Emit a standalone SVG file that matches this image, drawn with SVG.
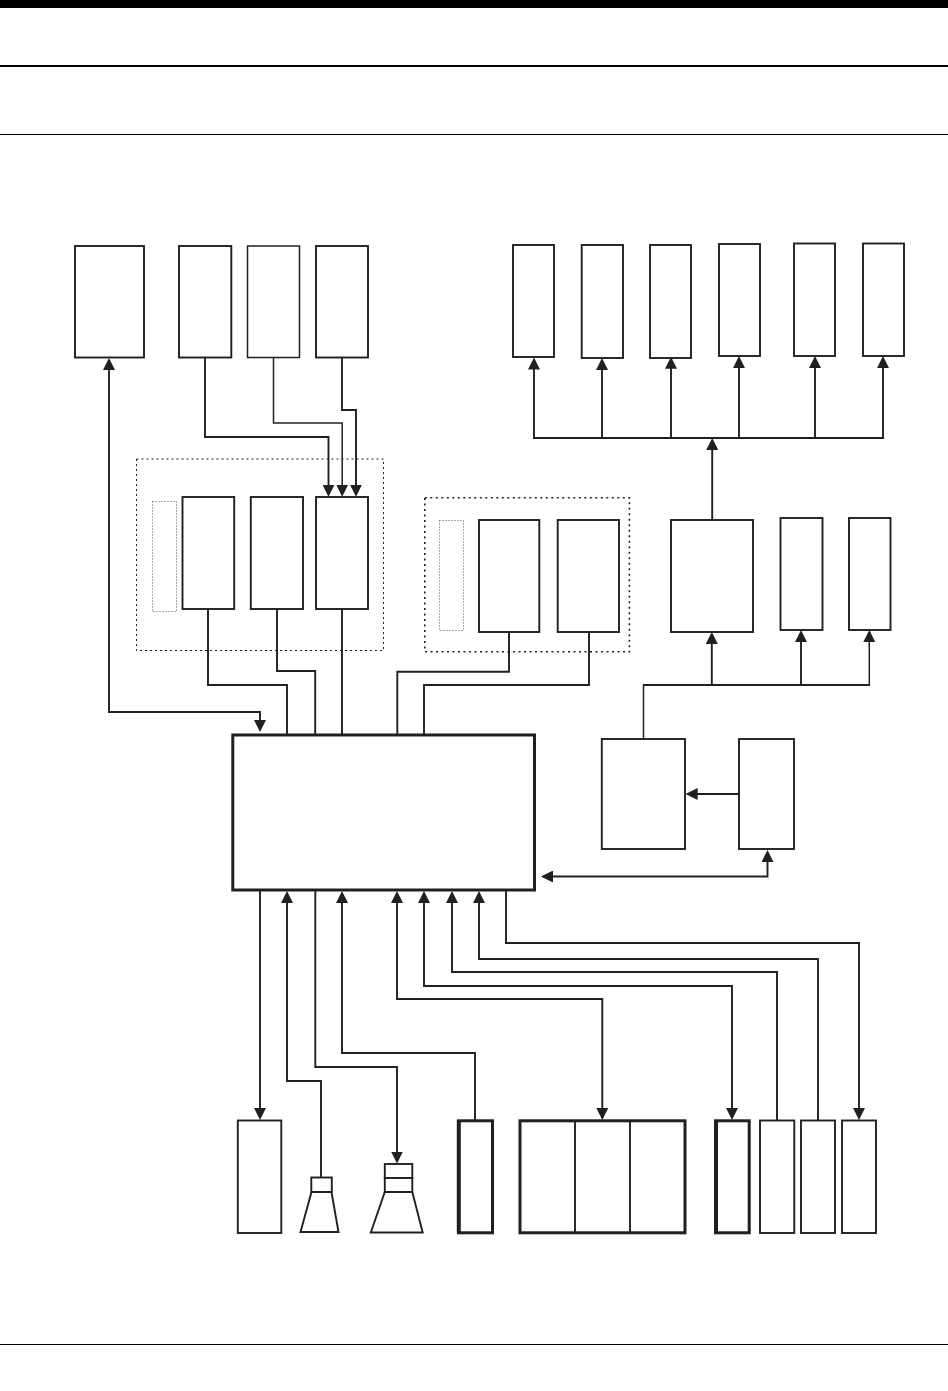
<svg xmlns="http://www.w3.org/2000/svg" width="948" height="1391" viewBox="0 0 948 1391">
<style>
.n{fill:#fff;stroke:#231f20;stroke-width:1.9}
.t{fill:#fff;stroke:#231f20;stroke-width:1.5}
.h{fill:#fff;stroke:#231f20;stroke-width:3}
.k{fill:none;stroke:#231f20;stroke-width:4}
.d{fill:none;stroke:#231f20;stroke-width:1;stroke-dasharray:2 3}
.d2{fill:none;stroke:#231f20;stroke-width:1.6;stroke-dasharray:2 3.5}
.g{fill:none;stroke:#555;stroke-width:1;stroke-dasharray:1 2}
.c{fill:none;stroke:#231f20;stroke-width:1.9;stroke-linejoin:miter}
.c2{fill:none;stroke:#231f20;stroke-width:1.5}
.a{marker-end:url(#ah)}
.b{marker-start:url(#ah);marker-end:url(#ah)}
.r{fill:#000}
.l{stroke:#000;fill:none}
</style>
<defs>
<marker id="ah" markerUnits="userSpaceOnUse" markerWidth="12" markerHeight="12" refX="10" refY="6" orient="auto-start-reverse"><polygon points="0,0 12,6 0,12" fill="#231f20"/></marker>
</defs>
<rect width="948" height="1391" fill="#fff"/>
<g id="page-rules">
<rect class="r" x="0" y="0" width="948" height="8"/>
<line class="l" x1="0" y1="66" x2="948" y2="66" stroke-width="2"/>
<line class="l" x1="0" y1="134.500" x2="948" y2="134.500" stroke-width="1"/>
<line class="l" x1="0" y1="1344.500" x2="948" y2="1344.500" stroke-width="1"/>
</g>
<g id="frame-left"><rect class="d" x="136.500" y="459" width="247" height="191.500"/><rect class="g" x="152.500" y="501.500" width="24" height="110"/></g>
<g id="frame-right"><rect class="d2" x="424.800" y="497.800" width="204.600" height="154"/><rect class="g" x="439.500" y="520.500" width="24" height="110"/></g>
<g id="top-1"><rect class="n" x="75" y="246" width="69" height="111.500"/></g>
<g id="top-2"><rect class="n" x="179" y="246" width="52.300" height="111.500"/></g>
<g id="top-3"><rect class="t" x="247.500" y="246" width="52" height="111.500"/></g>
<g id="top-4"><rect class="n" x="316" y="246" width="52" height="111.500"/></g>
<g id="mid-1"><rect class="n" x="182.500" y="497" width="51.700" height="112"/></g>
<g id="mid-2"><rect class="n" x="250.800" y="497" width="52.200" height="112"/></g>
<g id="mid-3"><rect class="n" x="316" y="497" width="52" height="112"/></g>
<g id="mid-4"><rect class="n" x="479" y="520" width="60.300" height="112"/></g>
<g id="mid-5"><rect class="n" x="557.700" y="520" width="61.300" height="112"/></g>
<g id="out-1"><rect class="n" x="513" y="245" width="41" height="112"/></g>
<g id="out-2"><rect class="n" x="581.700" y="245" width="41.300" height="113"/></g>
<g id="out-3"><rect class="n" x="650" y="245" width="41" height="113"/></g>
<g id="out-4"><rect class="n" x="719" y="244" width="41" height="112"/></g>
<g id="out-5"><rect class="n" x="794" y="243.500" width="41" height="112.500"/></g>
<g id="out-6"><rect class="n" x="863" y="243.500" width="41" height="112.500"/></g>
<g id="right-1"><rect class="n" x="671" y="520" width="82" height="112"/></g>
<g id="right-2"><rect class="n" x="780.500" y="518" width="42" height="112"/></g>
<g id="right-3"><rect class="n" x="849" y="518" width="41.500" height="112"/></g>
<g id="right-4"><rect class="n" x="601.800" y="739" width="83.200" height="110"/></g>
<g id="right-5"><rect class="n" x="739" y="739" width="55" height="110"/></g>
<g id="main"><rect class="h" x="232.800" y="735" width="301.700" height="155"/></g>
<g id="bot-1"><rect class="n" x="237.800" y="1120.500" width="43.500" height="112.500"/></g>
<g id="speaker-1"><rect class="n" x="311.300" y="1177.500" width="20.500" height="14.500"/><polygon class="n" points="311.500,1192 331.500,1192 338.500,1232 300.500,1232"/></g>
<g id="speaker-2"><rect class="n" x="384.800" y="1164" width="27.500" height="14"/><rect class="n" x="384.800" y="1178" width="27.500" height="14"/><polygon class="n" points="384.800,1192 412.300,1192 422.700,1232.500 370.800,1232.500"/></g>
<g id="bot-2"><rect class="h" x="458.500" y="1120.800" width="34" height="112"/><line class="k" x1="458.800" y1="1120" x2="458.800" y2="1233"/></g>
<g id="bot-3"><rect class="h" x="520" y="1120.800" width="165" height="112"/><line class="n" x1="575" y1="1120" x2="575" y2="1233"/><line class="n" x1="630" y1="1120" x2="630" y2="1233"/></g>
<g id="bot-4"><rect class="h" x="715.500" y="1120.800" width="33.700" height="112"/><line class="k" x1="716" y1="1120" x2="716" y2="1233"/></g>
<g id="bot-5"><rect class="n" x="760" y="1120.500" width="34.300" height="112.500"/></g>
<g id="bot-6"><rect class="n" x="801" y="1120.500" width="34" height="112.500"/></g>
<g id="bot-7"><rect class="n" x="842" y="1120.500" width="34" height="112.500"/></g>
<g id="connectors">
<path class="c b" d="M109,360 V712 H260 V730"/>
<path class="c a" d="M205,358 V437 H328.500 V494.700"/>
<path class="c2 a" d="M273.500,358 V423 H342.200 V494.700"/>
<path class="c a" d="M342,358 V410 H356 V494.700"/>
<path class="c" d="M208,609 V685 H287 V734"/>
<path class="c" d="M277,609 V671 H315.200 V734"/>
<path class="c" d="M342,609 V734"/>
<path class="c" d="M509,632 V671.700 H397.300 V734"/>
<path class="c" d="M589,632 V685 H424 V734"/>
<path class="c a" d="M534,438 V359.500"/>
<path class="c a" d="M602,438 V360"/>
<path class="c a" d="M671,438 V358.700"/>
<path class="c a" d="M739,438 V358"/>
<path class="c a" d="M815,438 V358"/>
<path class="c a" d="M883,438 V358"/>
<path class="c" d="M533,438 H884"/>
<path class="c a" d="M712.200,520 V440"/>
<path class="c a" d="M711.800,685 V634"/>
<path class="c a" d="M801,685 V632"/>
<path class="c2 a" d="M869.300,685 V632"/>
<path class="c" d="M643,685 H870"/>
<path class="c2" d="M643.500,739 V685"/>
<path class="c a" d="M739,794 H687.700"/>
<path class="c b" d="M543,876.500 H767.500 V852"/>
<path class="c a" d="M260,890 V1118"/>
<path class="c a" d="M321,1177 V1081 H287 V893"/>
<path class="c a" d="M315.300,890 V1067 H397 V1161.500"/>
<path class="c a" d="M475,1120 V1053 H342 V893"/>
<path class="c b" d="M397,893 V999 H602.300 V1118"/>
<path class="c b" d="M424,893 V986 H732 V1118"/>
<path class="c a" d="M777,1120 V972 H452 V893"/>
<path class="c a" d="M818,1120 V959 H479 V893"/>
<path class="c a" d="M506,890 V943 H859 V1118"/>
</g>
</svg>
